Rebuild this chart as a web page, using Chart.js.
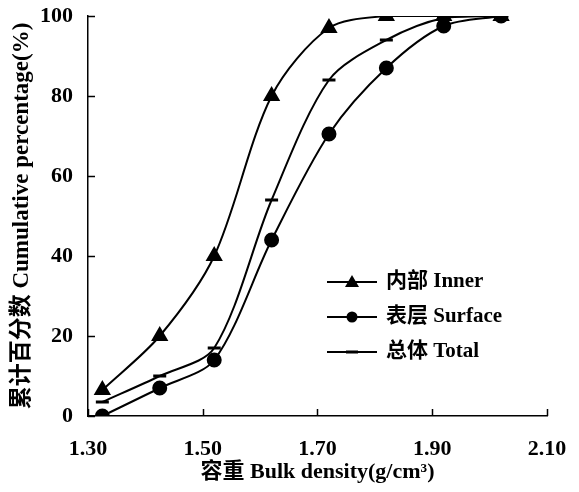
<!DOCTYPE html>
<html>
<head>
<meta charset="utf-8">
<script src="https://cdn.jsdelivr.net/npm/chart.js@4/dist/chart.umd.min.js"></script>
<style>
html,body{margin:0;padding:0;background:#fff;}
#wrap{width:579px;height:492px;position:relative;}
</style>
</head>
<body>
<div id="wrap"><canvas id="c" width="579" height="492"></canvas></div>
<script>
const densities = [1.325, 1.425, 1.52, 1.62, 1.72, 1.82, 1.92, 2.02];
const innerValues = [6.5, 20, 40, 80, 97, 100, 100, 100];
const surfaceValues = [0, 7, 14, 44, 70.5, 87, 97.5, 100];
const totalValues = [3.5, 10, 17, 54, 84, 94, 99.5, 100];
const seriesLabels = ['内部 Inner', '表层 Surface', '总体 Total'];
const xTickLabels = ['1.30', '1.50', '1.70', '1.90', '2.10'];
const yTickLabels = ['0', '20', '40', '60', '80', '100'];
const xTitle = '容重 Bulk density(g/cm³)';
const yTitle = '累计百分数 Cumulative percentage(%)';

const FONT = '"Liberation Serif", "Noto Sans CJK SC", serif';
const toPts = vals => densities.map((d, i) => ({x: d, y: vals[i]}));

const innerTicks = {
  id: 'innerTicks',
  afterDraw(chart) {
    const {ctx, chartArea, scales} = chart;
    ctx.save();
    ctx.strokeStyle = '#000';
    ctx.lineWidth = 1.5;
    scales.y.ticks.forEach(t => {
      const y = Math.round(scales.y.getPixelForValue(t.value)) + 0.5;
      ctx.beginPath(); ctx.moveTo(chartArea.left, y); ctx.lineTo(chartArea.left + 7, y); ctx.stroke();
    });
    scales.x.ticks.forEach(t => {
      const x = Math.round(scales.x.getPixelForValue(t.value)) + 0.5;
      ctx.beginPath(); ctx.moveTo(x, chartArea.bottom); ctx.lineTo(x, chartArea.bottom - 7); ctx.stroke();
    });
    ctx.restore();
  }
};

const customLegend = {
  id: 'customLegend',
  afterDraw(chart) {
    const {ctx} = chart;
    const x0 = 327, x1 = 377, tx = 386;
    const rows = [282, 317, 352];
    ctx.save();
    chart.data.datasets.forEach((ds, i) => {
      const y = rows[i];
      ctx.strokeStyle = '#000';
      ctx.lineWidth = 2;
      ctx.beginPath(); ctx.moveTo(x0, y); ctx.lineTo(x1, y); ctx.stroke();
      const cx = (x0 + x1) / 2;
      ctx.fillStyle = '#000';
      if (ds.pointStyle === 'triangle') {
        const r = 7;
        ctx.beginPath(); ctx.moveTo(cx, y - r); ctx.lineTo(cx + r, y + r * 0.7); ctx.lineTo(cx - r, y + r * 0.7); ctx.closePath(); ctx.fill();
      } else if (ds.pointStyle === 'circle') {
        ctx.beginPath(); ctx.arc(cx, y, 5.5, 0, Math.PI * 2); ctx.fill();
      } else {
        ctx.fillRect(cx - 6, y - 1.5, 12, 3);
      }
      ctx.font = 'bold 21px ' + FONT;
      ctx.textBaseline = 'middle';
      ctx.textAlign = 'left';
      ctx.fillText(ds.label, tx, y);
    });
    ctx.restore();
  }
};

new Chart(document.getElementById('c'), {
  type: 'line',
  data: {
    datasets: [
      {label: seriesLabels[0], data: toPts(innerValues), pointStyle: 'triangle', pointRadius: 8, pointBackgroundColor: '#000', pointBorderColor: '#000'},
      {label: seriesLabels[1], data: toPts(surfaceValues), pointStyle: 'circle', pointRadius: 6.5, pointBackgroundColor: '#000', pointBorderColor: '#000'},
      {label: seriesLabels[2], data: toPts(totalValues), pointStyle: 'line', pointRadius: 6.5, pointBorderWidth: 3, pointBackgroundColor: '#000', pointBorderColor: '#000'}
    ].map(d => Object.assign({borderColor: '#000', borderWidth: 2, fill: false, tension: 0.3}, d))
  },
  options: {
    responsive: false,
    animation: false,
    events: [],
    layout: {padding: {left: 0, top: 16, right: 32, bottom: 0}},
    plugins: {legend: {display: false}, tooltip: {enabled: false}},
    scales: {
      x: {
        type: 'linear', min: 1.3, max: 2.1,
        afterBuildTicks: s => { s.ticks = xTickLabels.map(v => ({value: parseFloat(v)})); },
        ticks: {color: '#000', font: {family: FONT, size: 22, weight: 'bold'}, padding: 12,
          callback: (v) => xTickLabels.find(l => Math.abs(parseFloat(l) - v) < 1e-6) || ''},
        grid: {display: false},
        border: {display: true, color: '#000', width: 1.5},
        title: {display: true, text: xTitle, color: '#000', font: {family: FONT, size: 22, weight: 'bold'}, padding: {top: 0, bottom: 6}},
        afterFit: s => { s.height = 76; s.paddingLeft = 0; s.paddingRight = 0; }
      },
      y: {
        min: 0, max: 100,
        afterBuildTicks: s => { s.ticks = yTickLabels.map(v => ({value: parseFloat(v)})); },
        ticks: {color: '#000', font: {family: FONT, size: 22, weight: 'bold'}, padding: 7,
          callback: v => yTickLabels.find(l => parseFloat(l) === v) || ''},
        grid: {display: false},
        border: {display: true, color: '#000', width: 1.5},
        title: {display: true, text: yTitle, color: '#000', font: {family: FONT, size: 23, weight: 'bold'}, padding: {top: 8, bottom: 4}},
        afterFit: s => { s.width = 88; s.paddingTop = 0; s.paddingBottom = 0; }
      }
    }
  },
  plugins: [innerTicks, customLegend]
});
</script>
</body>
</html>
